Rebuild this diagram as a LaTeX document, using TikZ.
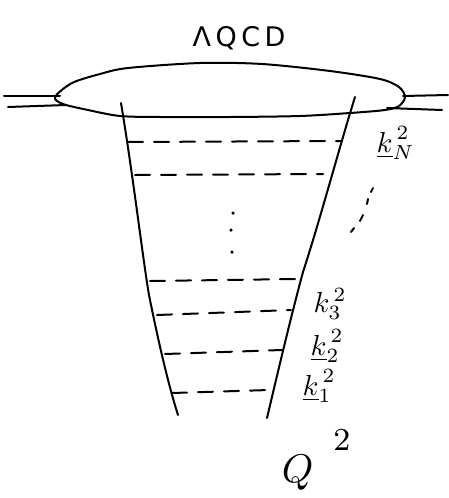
\documentclass[tikz,border=0pt]{standalone}
\usepackage{fontspec}
\newfontfamily\hand{DejaVu Sans}
\begin{document}
\begin{tikzpicture}[x=1pt,y=-1pt,
  pen/.style={line width=2pt,line cap=round,line join=round},
  rung/.style={pen,dash pattern=on 15pt off 11pt},
  lbl/.style={inner sep=0pt,scale=2.9},
  dotmark/.style={circle,fill,inner sep=0pt,minimum size=3.5pt}]
\useasboundingbox (0,0) rectangle (449,498);
% title
\node[inner sep=0pt,font=\hand\fontsize{27}{29}\selectfont] (title) at (239,38) {Λ\,Q\,C\,D};
% blob
\draw[pen] plot[smooth cycle,tension=0.5] coordinates {
  (55,97) (72,83) (100,74) (128,68) (200,63) (262,64) (330,71)
  (380,79) (399,87) (405,97) (399,106) (385,110) (350,113) (300,116)
  (230,117) (160,117) (120,116) (88,110) (63,104)};
% external lines
\coordinate (l1a) at (4,96);  \coordinate (l1b) at (60,96);
\coordinate (l2a) at (8,107); \coordinate (l2b) at (66,105);
\coordinate (r1a) at (403,96); \coordinate (r1b) at (448,95);
\coordinate (r2a) at (387,108); \coordinate (r2b) at (442,110);
\draw[pen] (l1a) -- (l1b);
\draw[pen] (l2a) -- (l2b);
\draw[pen] (r1a) -- (r1b);
\draw[pen] (r2a) -- (r2b);
% funnel sides
\coordinate (Ltop) at (121,103);
\coordinate (Lbot) at (178,415);
\coordinate (Rtop) at (355,97);
\coordinate (Rbot) at (267,418);
\draw[pen] (Ltop) .. controls (133,175) and (143,260) .. (149,295)
  .. controls (160,350) and (170,390) .. (Lbot);
\draw[pen] (Rtop) .. controls (340,145) and (320,220) .. (303,272)
  .. controls (290,320) and (276,380) .. (Rbot);
% rungs
\coordinate (a1) at (128,142); \coordinate (b1) at (342,141);
\coordinate (a2) at (135,175); \coordinate (b2) at (323,174);
\coordinate (a3) at (150,281); \coordinate (b3) at (298,279);
\coordinate (a4) at (157,315); \coordinate (b4) at (291,310);
\coordinate (a5) at (165,354); \coordinate (b5) at (282,350);
\coordinate (a6) at (172,393); \coordinate (b6) at (269,390);
\foreach \i in {1,...,6} \draw[rung] (a\i) -- (b\i);
% vertical dots
\node[dotmark] (d1) at (233,213) {};
\node[dotmark] (d2) at (231,230) {};
\node[dotmark] (d3) at (232,252) {};
% diagonal dots
\draw[pen] (373,188) -- (371,192);
\draw[pen] (368,199) -- (367,204);
\draw[pen] (363,215) -- (360,221);
\draw[pen] (354,228) -- (351,232);
% labels
\node[lbl,anchor=west] (kN) at (376,143) {$\underline{k}_{N}^{\,2}$};
\node[lbl,anchor=west] (k3) at (313,304) {$k_{3}^{\,2}$};
\node[lbl,anchor=west] (k2) at (310,346) {$\underline{k}_{2}^{\,2}$};
\node[lbl,anchor=west] (k1) at (302,386) {$\underline{k}_{1}^{\,2}$};
\node[inner sep=0pt,scale=4,anchor=base west] (Q) at (281,482)
  {$Q$\hspace{5pt}\raisebox{8pt}{\footnotesize 2}};
\end{tikzpicture}
\end{document}
